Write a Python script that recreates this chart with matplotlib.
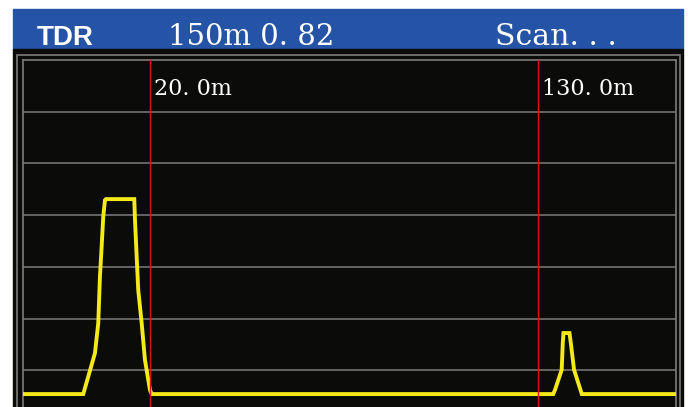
import matplotlib
matplotlib.use("Agg")
import matplotlib.pyplot as plt
from matplotlib.patches import Rectangle

# ---- data (distance in m, amplitude in grid divisions) ----
dist = [-16.0, 1.08, 4.39, 5.33, 5.81, 6.29, 6.75, 7.23, 7.51, 15.54,
        15.74, 16.22, 16.67, 17.64, 18.57, 19.99, 20.47,
        134.3, 134.8, 136.7, 137.0, 137.2, 137.4, 138.9, 139.3, 140.2,
        142.4, 168.8]
amp = [0.54, 0.54, 1.33, 1.91, 2.81, 3.39, 3.97, 4.29, 4.31, 4.31,
       3.91, 3.20, 2.55, 1.91, 1.20, 0.62, 0.54,
       0.54, 0.62, 1.01, 1.52, 1.72, 1.72, 1.72, 1.52, 1.01,
       0.54, 0.54]
cursors = [20.0, 130.0]
cursor_labels = ["20. 0m", "130. 0m"]
header_mode = "TDR"
header_info = "150m 0. 82"
header_state = "Scan. . ."

W, H = 688, 407
BLUE = "#2554a6"
BG = "#0b0b09"
GRID = "#7c7c7c"
YELLOW = "#f4ea1a"
RED = "#d8121a"


def fx(x):
    return x / W


def fy(y):
    return 1 - y / H


fig = plt.figure(figsize=(W / 100, H / 100), dpi=100, facecolor="white")

# header banner and dark panel
fig.patches.append(Rectangle((fx(13), fy(49)), fx(670), 40 / H,
                             transform=fig.transFigure, color=BLUE, zorder=-2))
fig.patches.append(Rectangle((fx(13), 0), fx(670), fy(49),
                             transform=fig.transFigure, color=BG, zorder=-2))
# outer thin frame
fig.patches.append(Rectangle((fx(17), -0.05), fx(663), fy(55) + 0.05,
                             transform=fig.transFigure, fill=False,
                             edgecolor=GRID, lw=1.2, zorder=-1))

fig.text(fx(37), fy(45), header_mode, color="white", fontsize=20,
         fontweight="bold", family="Liberation Sans", va="baseline")
fig.text(fx(168), fy(45), header_info, color="white", fontsize=21,
         family="DejaVu Serif", va="baseline")
fig.text(fx(495), fy(45), header_state, color="white", fontsize=21.5,
         family="DejaVu Serif", va="baseline")

ax = fig.add_axes([fx(23), 0, fx(653), fy(60)], zorder=1)
ax.set_facecolor(BG)
ax.set_xlim(-16.0, 169.1)
ax.set_ylim(0.29, 7.0)
ax.set_yticks([1, 2, 3, 4, 5, 6])
ax.set_xticks([])
ax.tick_params(length=0, labelleft=False)
ax.grid(True, axis="y", color=GRID, lw=1.1)
for side in ["top", "left", "right"]:
    ax.spines[side].set_color(GRID)
    ax.spines[side].set_linewidth(1.2)
ax.spines["bottom"].set_visible(False)

ax.plot(dist, amp, color=YELLOW, lw=2.8, solid_joinstyle="miter", zorder=3)

for c, lab in zip(cursors, cursor_labels):
    ax.axvline(c, color=RED, lw=1.0, zorder=4)
    ax.annotate(lab, xy=(c, 7.0), xytext=(4, -35), textcoords="offset pixels",
                color="white", fontsize=16, family="DejaVu Serif",
                va="baseline", ha="left")

fig.savefig("out.png", dpi=100, facecolor="white")
